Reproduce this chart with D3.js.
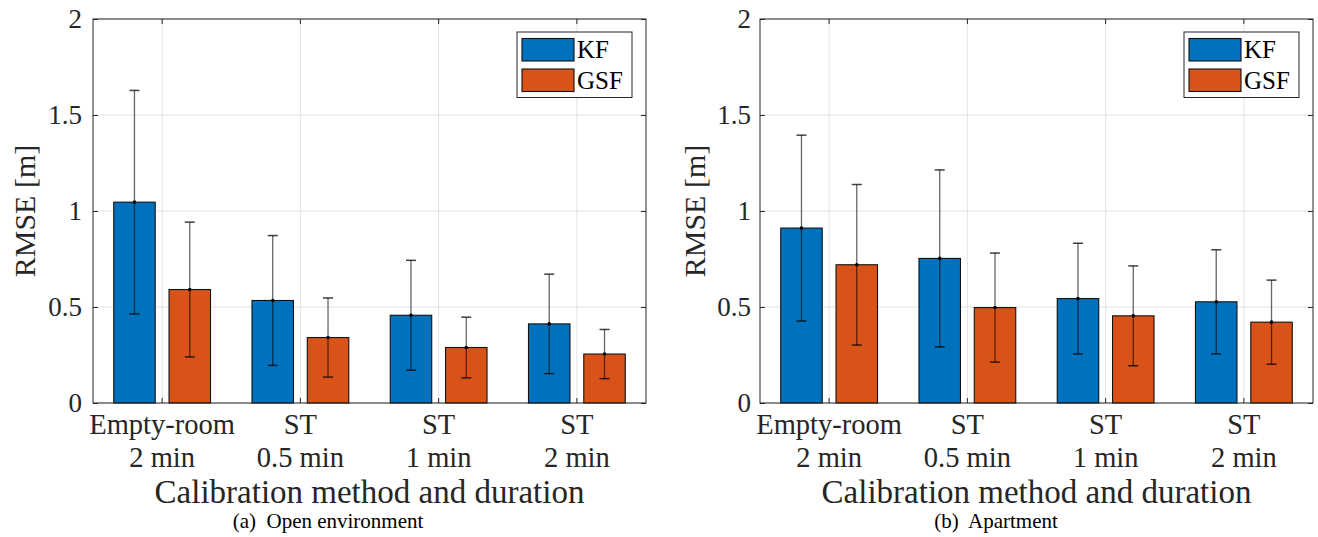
<!DOCTYPE html>
<html>
<head>
<meta charset="utf-8">
<script src="https://cdn.jsdelivr.net/npm/d3@7"></script>
<style>
  html, body { margin: 0; padding: 0; background: #fff; }
  svg { display: block; font-family: "Liberation Serif", "Times New Roman", serif; }
</style>
</head>
<body>
<svg id="chart" width="1318" height="537"></svg>
<script>
// ---------- data ----------
const categoryLine1 = ["Empty-room", "ST", "ST", "ST"];
const categoryLine2 = ["2 min", "0.5 min", "1 min", "2 min"];
const seriesNames = ["KF", "GSF"];
const seriesColors = ["#0072BD", "#D95319"];
const yTicks = [0, 0.5, 1, 1.5, 2];
const yTickLabels = ["0", "0.5", "1", "1.5", "2"];

const openKF = [1.046, 0.534, 0.457, 0.412];
const openKFErr = [0.582, 0.338, 0.286, 0.259];
const openGSF = [0.591, 0.341, 0.289, 0.255];
const openGSFErr = [0.351, 0.206, 0.158, 0.128];

const aptKF = [0.911, 0.753, 0.544, 0.527];
const aptKFErr = [0.484, 0.461, 0.288, 0.271];
const aptGSF = [0.720, 0.497, 0.454, 0.421];
const aptGSFErr = [0.418, 0.284, 0.260, 0.219];

const yLabel = "RMSE [m]";
const xLabel = "Calibration method and duration";
const captions = ["(a)  Open environment", "(b)  Apartment"];

// ---------- layout ----------
const panels = [
  { x0: 93, x1: 646, tickEnd: 82, yLabelX: 35, capX: 328, values: [openKF, openGSF], errs: [openKFErr, openGSFErr], caption: captions[0] },
  { x0: 760, x1: 1313, tickEnd: 751, yLabelX: 705, capX: 996, values: [aptKF, aptGSF], errs: [aptKFErr, aptGSFErr], caption: captions[1] }
];
const yTop = 19, yBot = 403;
const axisColor = "#262626";
const gridColor = "#e3e3e3";

const svg = d3.select("#chart");

panels.forEach(p => {
  const g = svg.append("g");
  const x = d3.scaleBand().domain(d3.range(categoryLine1.length)).range([p.x0, p.x1]).paddingInner(0).paddingOuter(0);
  const bw = x.bandwidth();
  const sub = d3.scaleBand().domain(seriesNames).range([-0.35 * bw, 0.35 * bw]).paddingInner(0.25).paddingOuter(0);
  const y = d3.scaleLinear().domain([0, 2]).range([yBot, yTop]);

  // grid
  g.append("g").selectAll("line.hg").data(yTicks).join("line")
    .attr("x1", p.x0).attr("x2", p.x1)
    .attr("y1", d => y(d)).attr("y2", d => y(d))
    .attr("stroke", gridColor).attr("stroke-width", 1);
  g.append("g").selectAll("line.vg").data(d3.range(categoryLine1.length)).join("line")
    .attr("x1", d => x(d) + bw / 2).attr("x2", d => x(d) + bw / 2)
    .attr("y1", yTop).attr("y2", yBot)
    .attr("stroke", gridColor).attr("stroke-width", 1);

  // bars
  seriesNames.forEach((s, si) => {
    const vals = p.values[si];
    g.append("g").selectAll("rect").data(vals).join("rect")
      .attr("x", (d, i) => x(i) + bw / 2 + sub(s))
      .attr("width", sub.bandwidth())
      .attr("y", d => y(d))
      .attr("height", d => y(0) - y(d))
      .attr("fill", seriesColors[si])
      .attr("stroke", "#111")
      .attr("stroke-width", 1.1);
  });

  // error bars
  seriesNames.forEach((s, si) => {
    const vals = p.values[si], errs = p.errs[si];
    const eg = g.append("g");
    vals.forEach((v, i) => {
      const cx = x(i) + bw / 2 + sub(s) + sub.bandwidth() / 2;
      const lo = y(v - errs[i]), hi = y(v + errs[i]);
      eg.append("line").attr("x1", cx).attr("x2", cx).attr("y1", lo).attr("y2", hi)
        .attr("stroke", "#000").attr("stroke-opacity", 0.6).attr("stroke-width", 1.3);
      [lo, hi].forEach(yy => {
        eg.append("line").attr("x1", cx - 5).attr("x2", cx + 5).attr("y1", yy).attr("y2", yy)
          .attr("stroke", "#000").attr("stroke-opacity", 0.75).attr("stroke-width", 1.5);
      });
      eg.append("circle").attr("cx", cx).attr("cy", y(v)).attr("r", 1.8).attr("fill", "#000");
    });
  });

  // axes frame
  g.append("rect").attr("x", p.x0).attr("y", yTop).attr("width", p.x1 - p.x0).attr("height", yBot - yTop)
    .attr("fill", "none").attr("stroke", axisColor).attr("stroke-width", 1);

  // y ticks (inward, both sides)
  const yAxisL = d3.axisRight(y).tickValues(yTicks).tickSize(5).tickFormat("");
  const yAxisR = d3.axisLeft(y).tickValues(yTicks).tickSize(5).tickFormat("");
  const yl = g.append("g").attr("transform", `translate(${p.x0},0)`).call(yAxisL);
  const yr = g.append("g").attr("transform", `translate(${p.x1},0)`).call(yAxisR);
  [yl, yr].forEach(a => { a.select(".domain").remove(); a.selectAll("line").attr("stroke", axisColor); });

  // y tick labels
  g.append("g").selectAll("text").data(yTicks).join("text")
    .attr("x", p.tickEnd).attr("y", d => y(d)).attr("dy", "0.33em")
    .attr("text-anchor", "end").attr("font-size", 27).attr("fill", "#262626")
    .text((d, i) => yTickLabels[i]);

  // x ticks (inward, top and bottom)
  const xb = g.append("g").attr("transform", `translate(0,${yBot})`)
    .call(d3.axisTop(x).tickSize(5).tickFormat(""));
  const xt = g.append("g").attr("transform", `translate(0,${yTop})`)
    .call(d3.axisBottom(x).tickSize(5).tickFormat(""));
  [xb, xt].forEach(a => { a.select(".domain").remove(); a.selectAll("line").attr("stroke", axisColor); });

  // x tick labels (two lines)
  const xl = g.append("g").selectAll("text").data(d3.range(categoryLine1.length)).join("text")
    .attr("text-anchor", "middle").attr("font-size", 28.5).attr("fill", "#262626");
  xl.append("tspan").attr("x", d => x(d) + bw / 2).attr("y", 434).text(d => categoryLine1[d]);
  xl.append("tspan").attr("x", d => x(d) + bw / 2).attr("y", 466.5).text(d => categoryLine2[d]);

  // axis labels
  g.append("text").attr("x", (p.x0 + p.x1) / 2).attr("y", 502.5)
    .attr("text-anchor", "middle").attr("font-size", 33).attr("fill", "#262626").text(xLabel);
  g.append("text").attr("transform", `translate(${p.yLabelX},${(yTop + yBot) / 2}) rotate(-90)`)
    .attr("text-anchor", "middle").attr("font-size", 30).attr("fill", "#262626").text(yLabel);

  // caption
  g.append("text").attr("x", p.capX).attr("y", 528)
    .attr("text-anchor", "middle").attr("font-size", 21).attr("fill", "#000")
    .style("white-space", "pre").text(p.caption);

  // legend
  const lx = p.x1 - 129, ly = 32;
  const lg = g.append("g").attr("transform", `translate(${lx},${ly})`);
  lg.append("rect").attr("x", 0).attr("y", 0).attr("width", 115).attr("height", 65.5)
    .attr("fill", "#fff").attr("stroke", axisColor).attr("stroke-width", 1);
  seriesNames.forEach((s, si) => {
    lg.append("rect").attr("x", 5).attr("y", 6.5 + si * 30.5).attr("width", 52).attr("height", 22.5)
      .attr("fill", seriesColors[si]).attr("stroke", "#111").attr("stroke-width", 1.1);
    lg.append("text").attr("x", 60).attr("y", 26 + si * 30.5)
      .attr("font-size", 25).attr("fill", "#000").text(s);
  });
});
</script>
</body>
</html>
